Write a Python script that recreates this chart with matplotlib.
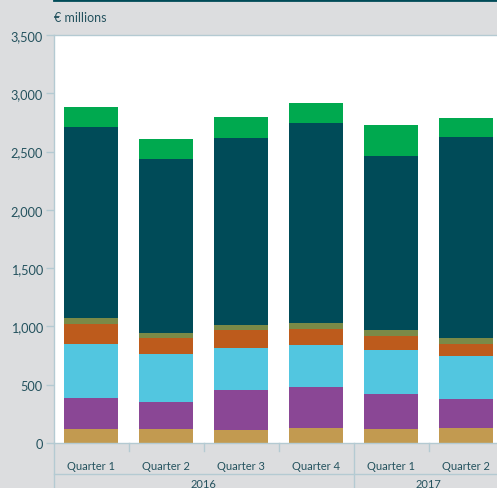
import matplotlib
matplotlib.use("Agg")
import matplotlib.pyplot as plt
from matplotlib.lines import Line2D
from matplotlib.ticker import FuncFormatter

# Quarterly components, € millions (stacked bottom to top)
quarters = ["Quarter 1", "Quarter 2", "Quarter 3", "Quarter 4", "Quarter 1", "Quarter 2"]
years = ["2016", "2017"]
year_spans = [(0, 3), (4, 5)]

comp_a = [120, 120, 112, 129, 120, 129]
comp_b = [266, 232, 343, 351, 300, 248]
comp_c = [463, 411, 360, 361, 378, 369]
comp_d = [172, 138, 154, 137, 120, 103]
comp_e = [51, 43, 43, 51, 51, 52]
comp_f = [1639, 1492, 1604, 1716, 1493, 1724]
comp_g = [171, 172, 181, 172, 266, 163]

series = [comp_a, comp_b, comp_c, comp_d, comp_e, comp_f, comp_g]
colors = ["#c29a50", "#8a4795", "#52c6e0", "#bd5b1c", "#7a8a47", "#004b58", "#00a94f"]

bg = "#dcdddf"
axis_col = "#b4cad2"
text_col = "#24525e"
font = ["Lato", "DejaVu Sans"]
plt.rcParams["font.family"] = font

W, H = 497, 489
fig = plt.figure(figsize=(W / 100, H / 100), dpi=100, facecolor=bg)
left, top, bottom = 54, 36, 444
ax = fig.add_axes([left / W, (H - bottom) / H, (W - left) / W, (bottom - top) / H])
ax.set_facecolor("white")

x = list(range(len(quarters)))
base = [0] * len(quarters)
for vals, col in zip(series, colors):
    ax.bar(x, vals, bottom=base, width=0.72, color=col, linewidth=0, zorder=2)
    base = [b + v for b, v in zip(base, vals)]

ax.set_xlim(-0.5, 5.41)
ax.set_ylim(0, 3500)
ax.set_yticks(range(0, 3501, 500))
ax.yaxis.set_major_formatter(FuncFormatter(lambda v, p: f"{int(v):,}"))
ax.tick_params(axis="y", length=6, width=1, color=axis_col, labelsize=9.2,
               labelcolor=text_col, pad=2)
ax.set_xticks(x)
ax.set_xticklabels(quarters)
ax.tick_params(axis="x", length=0, labelsize=8, labelcolor=text_col, pad=12)

ax.spines["right"].set_visible(False)
for s in ["left", "top", "bottom"]:
    ax.spines[s].set_color(axis_col)
    ax.spines[s].set_linewidth(1)

# category separators below the axis
def px_to_axes(py):
    return (bottom - py) / (bottom - top)

trans = ax.get_xaxis_transform()
for xs in [0.5, 1.5, 2.5, 4.5]:
    ax.add_line(Line2D([xs, xs], [0, px_to_axes(452)], transform=trans,
                       color=axis_col, lw=1, clip_on=False))
for xs in [-0.5, 3.5]:
    ax.add_line(Line2D([xs, xs], [0, px_to_axes(H + 2)], transform=trans,
                       color=axis_col, lw=1, clip_on=False))
ax.add_line(Line2D([-0.5, 5.6], [px_to_axes(475)] * 2, transform=trans,
                   color=axis_col, lw=1, clip_on=False))

for (a, b), yr in zip(year_spans, years):
    ax.text((a + b) / 2, px_to_axes(479), yr, transform=trans, ha="center", va="top",
            fontsize=8, color=text_col, clip_on=False)

# header
fig.add_artist(Line2D([left / W, 1], [1 - 1 / H] * 2, color="#004b58", lw=2))
fig.text(left / W, 1 - 18 / H, "€ millions", ha="left", va="center",
         fontsize=9, color=text_col)

fig.savefig("out.png", dpi=100, facecolor=bg)
